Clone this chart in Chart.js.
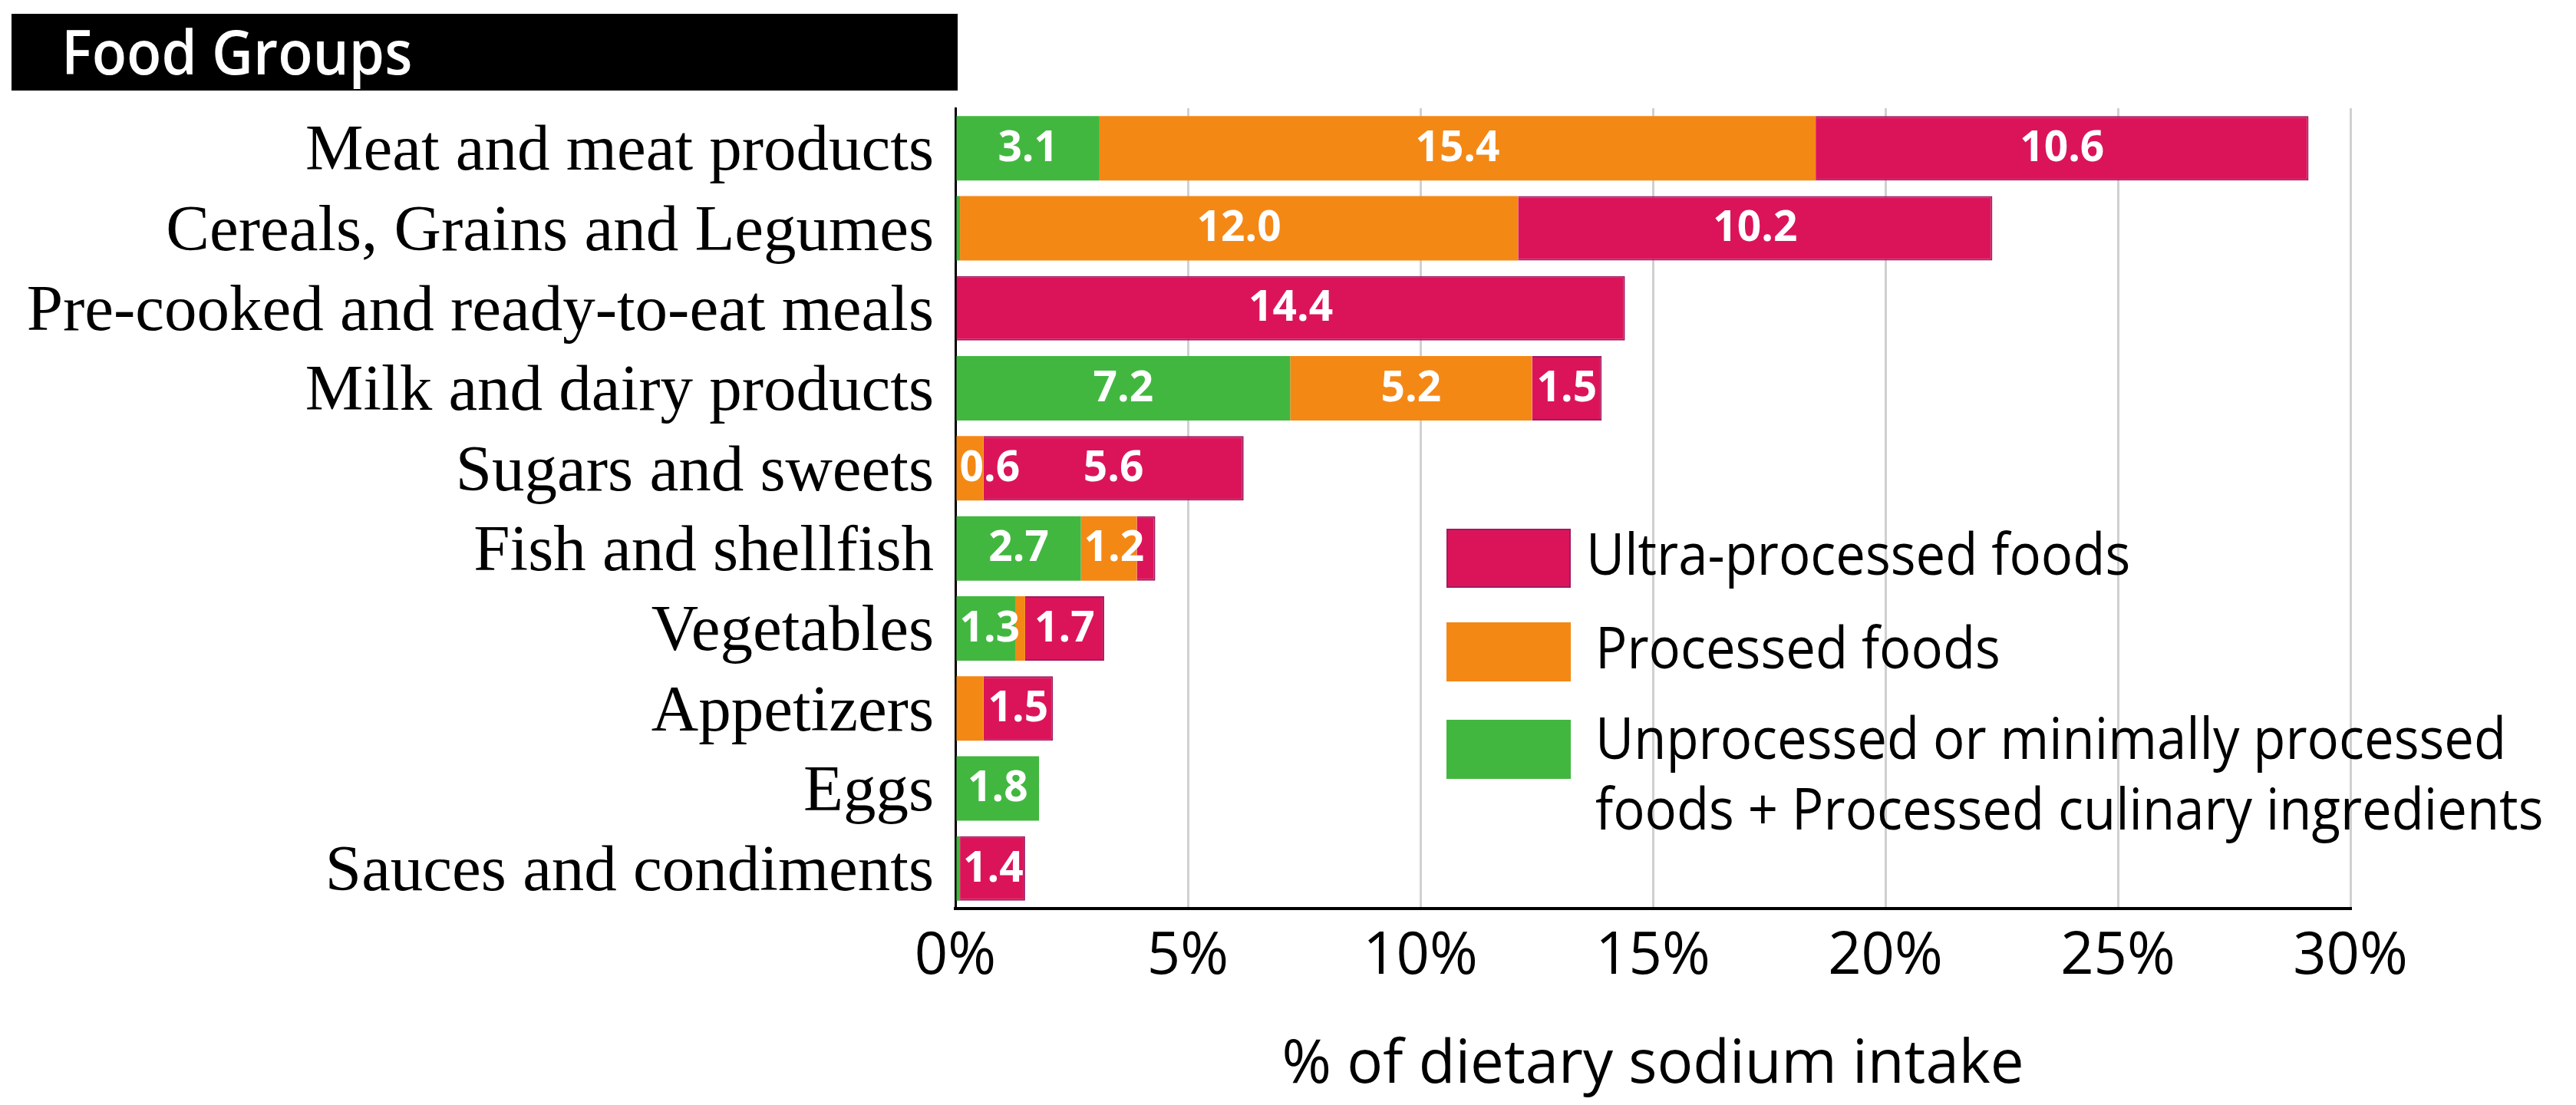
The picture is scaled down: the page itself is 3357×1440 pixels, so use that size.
<!DOCTYPE html>
<html>
<head>
<meta charset="utf-8">
<script src="https://cdn.jsdelivr.net/npm/chart.js@4.4.1/dist/chart.umd.min.js"></script>
<style>
  html, body { margin: 0; padding: 0; background: #fff; }
  canvas { display: block; }
</style>
</head>
<body>
<canvas id="chart" width="3357" height="1440" style="width:3357px;height:1440px"></canvas>
<script>
const categories = [
  "Meat and meat products",
  "Cereals, Grains and Legumes",
  "Pre-cooked and ready-to-eat meals",
  "Milk and dairy products",
  "Sugars and sweets",
  "Fish and shellfish",
  "Vegetables",
  "Appetizers",
  "Eggs",
  "Sauces and condiments",
];
// % of dietary sodium intake per processing level (null = no segment)
const unprocessed = [3.1, 0.1, null, 7.2, null, 2.7, 1.3, null, 1.8, 0.1];
const processed = [15.4, 12.0, null, 5.2, 0.6, 1.2, 0.2, 0.6, null, null];
const ultraProcessed = [10.6, 10.2, 14.4, 1.5, 5.6, 0.4, 1.7, 1.5, null, 1.4];

const xTicks = [0, 5, 10, 15, 20, 25, 30];

const seriesNames = [
  "Unprocessed or minimally processed foods + Processed culinary ingredients",
  "Processed foods",
  "Ultra-processed foods",
];
const legendLines = [
  ["Unprocessed or minimally processed", "foods + Processed culinary ingredients"],
  ["Processed foods"],
  ["Ultra-processed foods"],
];
const seriesColors = ["#42b740", "#f48815", "#db1459"];

// small segments get no value label
const labelMin = 0.5;
const unlabelled = { "Processed foods": ["Appetizers"] };

const SANS = '"Open Sans", "Noto Sans", sans-serif';

// Open Sans runs wider than the original's face, so squeeze it a little
function squeezedText(ctx, text, x, y, sx) {
  ctx.save();
  ctx.translate(x, y);
  ctx.scale(sx, 1);
  ctx.fillText(text, 0, 0);
  ctx.restore();
}

const headerPlugin = {
  id: "header",
  beforeDraw(chart) {
    const ctx = chart.ctx;
    ctx.save();
    ctx.fillStyle = "#fff";
    ctx.fillRect(0, 0, chart.width, chart.height);
    ctx.fillStyle = "#000";
    ctx.fillRect(15, 18, 1233, 100);
    ctx.fillStyle = "#fff";
    ctx.font = "600 80px " + SANS;
    ctx.textBaseline = "alphabetic";
    squeezedText(ctx, "Food Groups", 80, 97, 0.93);
    ctx.restore();
  },
};

const valueLabels = {
  id: "valueLabels",
  afterDatasetsDraw(chart) {
    const ctx = chart.ctx;
    ctx.save();
    ctx.font = "700 55px " + SANS;
    ctx.fillStyle = "#fff";
    ctx.textAlign = "center";
    ctx.textBaseline = "middle";
    chart.data.datasets.forEach((ds, di) => {
      const meta = chart.getDatasetMeta(di);
      const skip = unlabelled[ds.label] || [];
      meta.data.forEach((bar, i) => {
        const v = ds.data[i];
        if (v == null || v < labelMin) return;
        if (skip.includes(chart.data.labels[i])) return;
        const p = bar.getProps(["x", "y", "base"], true);
        const text = v.toFixed(1);
        const w = ctx.measureText(text).width;
        let cx = (p.x + p.base) / 2;
        cx = Math.max(cx, Math.min(p.x, p.base) + w / 2 + 4);
        ctx.fillText(text, cx, p.y + 1);
      });
    });
    ctx.restore();
  },
};

const boxLegend = {
  id: "boxLegend",
  afterDraw(chart) {
    const ctx = chart.ctx;
    const area = chart.chartArea;
    const left = area.left + 640;
    const rowTops = [797, 670, 548]; // green, orange, red
    ctx.save();
    ctx.font = "400 75px " + SANS;
    ctx.textBaseline = "middle";
    chart.data.datasets.forEach((ds, di) => {
      const top = area.top + rowTops[di];
      ctx.fillStyle = ds.backgroundColor;
      ctx.fillRect(left, top, 162, 77);
      if (ds.borderWidth) {
        ctx.strokeStyle = ds.borderColor;
        ctx.lineWidth = 2;
        ctx.strokeRect(left + 1, top + 1, 160, 75);
      }
      ctx.fillStyle = "#000";
      const lines = legendLines[di];
      const cy = top + 38.5 - (lines.length > 1 ? 9 : 0);
      const tx = left + 162 + (di === 2 ? 20 : 32);
      lines.forEach((t, li) => {
        squeezedText(ctx, t, tx, cy + li * 92, 0.918);
      });
    });
    ctx.restore();
  },
};

const ctx = document.getElementById("chart").getContext("2d");
new Chart(ctx, {
  type: "bar",
  data: {
    labels: categories,
    datasets: [
      {
        label: seriesNames[0],
        data: unprocessed,
        backgroundColor: seriesColors[0],
        borderWidth: 0,
      },
      {
        label: seriesNames[1],
        data: processed,
        backgroundColor: seriesColors[1],
        borderWidth: 0,
      },
      {
        label: seriesNames[2],
        data: ultraProcessed,
        backgroundColor: seriesColors[2],
        borderColor: "#9e1c63",
        borderWidth: 2,
      },
    ],
  },
  options: {
    indexAxis: "y",
    responsive: false,
    animation: false,
    devicePixelRatio: 1,
    barPercentage: 0.805,
    categoryPercentage: 1,
    layout: { padding: { top: 141, right: 294, left: 0, bottom: 0 } },
    plugins: {
      legend: { display: false },
      tooltip: { enabled: false },
      title: { display: false },
    },
    scales: {
      x: {
        stacked: true,
        min: 0,
        max: 30,
        afterBuildTicks(scale) {
          scale.ticks = xTicks.map((v) => ({ value: v }));
        },
        ticks: {
          callback: (v) => v + "%",
          color: "#000",
          font: { family: SANS, size: 76 },
          padding: 18,
          maxRotation: 0,
        },
        grid: { color: "#d0d0d0", lineWidth: 3, drawTicks: false },
        border: { color: "#000", width: 4 },
        title: {
          display: true,
          text: "% of dietary sodium intake",
          color: "#000",
          font: { family: SANS, size: 78 },
          padding: { top: 30, bottom: 4 },
        },
        afterFit(scale) {
          scale.height = 256;
        },
      },
      y: {
        stacked: true,
        grid: { display: false, drawTicks: false },
        border: { color: "#000", width: 3 },
        ticks: {
          color: "#000",
          font: { family: '"Liberation Serif", "Times New Roman", serif', size: 85 },
          padding: 28,
          labelOffset: 6,
          autoSkip: false,
        },
        afterFit(scale) {
          scale.width = 1245;
        },
      },
    },
  },
  plugins: [headerPlugin, valueLabels, boxLegend],
});
</script>
</body>
</html>
